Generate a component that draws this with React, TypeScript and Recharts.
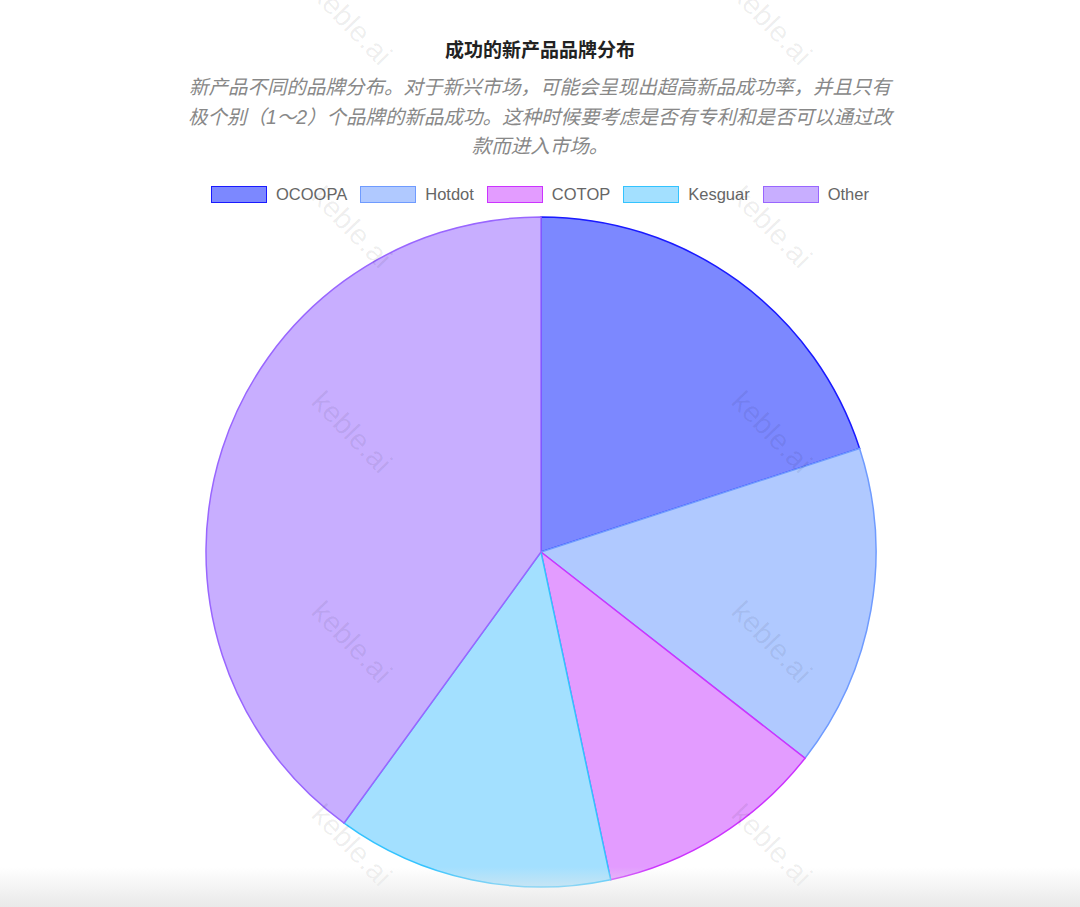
import { Cell, Pie, PieChart } from "recharts";

const brands = ["OCOOPA", "Hotdot", "COTOP", "Kesguar", "Other"];
const shares = [9, 7, 5, 6, 18];
const fills = ["#7c88ff", "#b0c9ff", "#e39cff", "#a3e0ff", "#c8aeff"];
const strokes = ["#1a1aff", "#6f9bff", "#cc33ff", "#33c3ff", "#9966ff"];

const TITLE = "成功的新产品品牌分布";
const SUBTITLE_LINES = [
  "新产品不同的品牌分布。对于新兴市场，可能会呈现出超高新品成功率，并且只有",
  "极个别（1～2）个品牌的新品成功。这种时候要考虑是否有专利和是否可以通过改",
  "款而进入市场。",
];

const watermarkCols = [352, 772];
const watermarkRows = [24, 227, 432, 642, 845];

const data = brands.map((name, i) => ({ name, value: shares[i] }));

const FONT = '"Liberation Sans", Arial, "Noto Sans CJK SC", sans-serif';

function LegendRow() {
  return (
    <div
      style={{
        position: "absolute",
        top: 185,
        left: 0,
        width: 1080,
        display: "flex",
        justifyContent: "center",
        alignItems: "center",
        gap: 13,
        fontFamily: FONT,
        fontSize: 16.5,
        lineHeight: "18px",
        color: "#666",
      }}
    >
      {brands.map((name, i) => (
        <span key={name} style={{ display: "inline-flex", alignItems: "center", gap: 9 }}>
          <span
            style={{
              display: "inline-block",
              width: 54,
              height: 15,
              background: fills[i],
              border: `1.5px solid ${strokes[i]}`,
            }}
          />
          {name}
        </span>
      ))}
    </div>
  );
}

export default function App() {
  return (
    <div
      style={{
        position: "absolute",
        left: 0,
        top: 0,
        width: 1080,
        height: 907,
        background: "#fff",
        overflow: "hidden",
      }}
    >
      <div
        style={{
          position: "absolute",
          top: 35,
          left: 0,
          width: 1080,
          textAlign: "center",
          fontFamily: FONT,
          fontWeight: 700,
          fontSize: 19,
          color: "#222",
        }}
      >
        {TITLE}
      </div>
      <div
        style={{
          position: "absolute",
          top: 73,
          left: 0,
          width: 1080,
          textAlign: "center",
          fontFamily: FONT,
          fontStyle: "italic",
          fontSize: 19.5,
          lineHeight: "29.5px",
          color: "#888",
        }}
      >
        {SUBTITLE_LINES.map((line) => (
          <div key={line}>{line}</div>
        ))}
      </div>
      <LegendRow />
      <div style={{ position: "absolute", left: 0, top: 0 }}>
        <PieChart width={1080} height={907} margin={{ top: 0, right: 0, bottom: 0, left: 0 }}>
          <Pie
            data={data}
            dataKey="value"
            nameKey="name"
            cx={541}
            cy={552}
            outerRadius={335}
            startAngle={90}
            endAngle={-270}
            isAnimationActive={false}
          >
            {data.map((d, i) => (
              <Cell key={d.name} fill={fills[i]} stroke={strokes[i]} strokeWidth={1.5} />
            ))}
          </Pie>
        </PieChart>
      </div>
      {watermarkRows.flatMap((y) =>
        watermarkCols.map((x) => (
          <div
            key={`${x}-${y}`}
            style={{
              position: "absolute",
              left: x - 80,
              top: y - 18,
              width: 160,
              textAlign: "center",
              fontFamily: FONT,
              fontSize: 29,
              lineHeight: "36px",
              color: "rgba(0,0,0,0.07)",
              transform: "rotate(46deg)",
              pointerEvents: "none",
            }}
          >
            keble.ai
          </div>
        ))
      )}
      <div
        style={{
          position: "absolute",
          left: 0,
          bottom: 0,
          width: 1080,
          height: 40,
          background: "linear-gradient(to bottom, rgba(235,235,235,0), #e9e9e9)",
        }}
      />
    </div>
  );
}
